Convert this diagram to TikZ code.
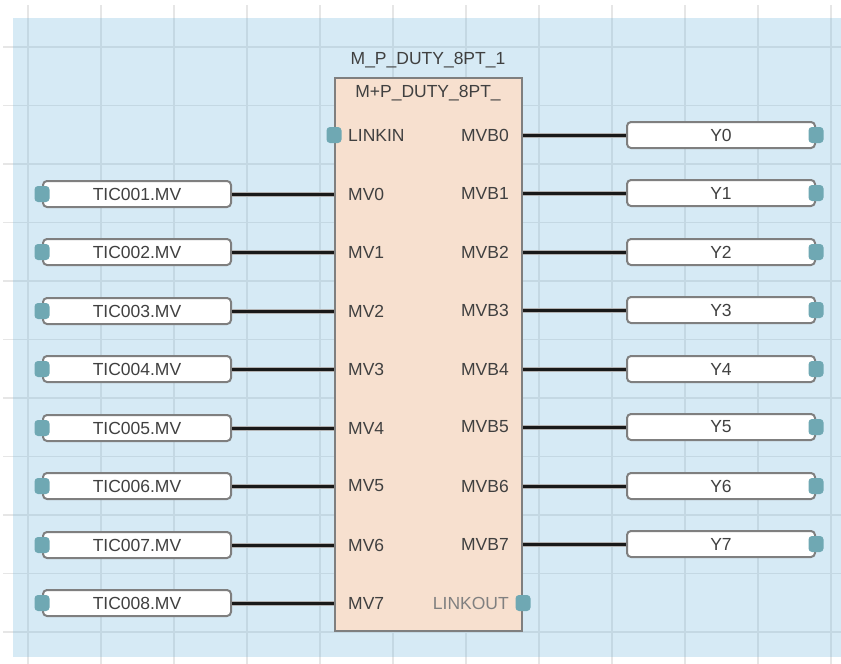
\documentclass[tikz,border=0pt]{standalone}
\usepackage{fontspec}
\setmainfont{Liberation Sans}
\definecolor{bgblue}{HTML}{D6EAF5}
\definecolor{gridb}{HTML}{C4D8E3}
\definecolor{gridw}{HTML}{E6E6E6}
\definecolor{peach}{HTML}{F7E0CF}
\definecolor{edge}{HTML}{7F7F7F}
\definecolor{portc}{HTML}{6FA8B3}
\definecolor{txt}{HTML}{404040}
\begin{document}
\begin{tikzpicture}[x=1pt,y=-1pt,
  every node/.style={font=\fontsize{17.5}{20}\selectfont, text=txt},
  var/.style={draw=edge, line width=2pt, fill=white, rounded corners=4pt,
    minimum width=188pt, minimum height=26pt, inner sep=0pt},
  fblock/.style={draw=edge, line width=2pt, fill=peach,
    minimum width=187pt, minimum height=553pt, inner sep=0pt},
  port/.style={fill=portc, rounded corners=3.5pt, minimum width=15pt,
    minimum height=16pt, inner sep=0pt},
  wire/.style={line width=3pt, draw=black!90,
    preaction={draw=gray!60, line width=5pt}},
  pinl/.style={anchor=west, inner sep=0pt},
  pinr/.style={anchor=east, inner sep=0pt}]
\useasboundingbox (0,0) rectangle (841,664);
\fill[white] (0,0) rectangle (841,664);
\fill[bgblue] (13,18) rectangle (841,657);
% grid
\foreach \i in {0,...,11} {
  \draw[gridw, line width=1.5pt] ({28+73*\i},5) -- ({28+73*\i},18);
  \draw[gridb, line width=1.5pt] ({28+73*\i},18) -- ({28+73*\i},657);
  \draw[gridw, line width=1.5pt] ({28+73*\i},657) -- ({28+73*\i},664);
}
\foreach \j in {0,...,10} {
  \draw[gridw, line width=1.5pt] (3,{47+58.5*\j}) -- (13,{47+58.5*\j});
  \draw[gridb, line width=1.5pt] (13,{47+58.5*\j}) -- (841,{47+58.5*\j});
}
% function block
\node[fblock] (fb) at (428.5,354.5) {};
\node (inst) at (428,60) {M\_P\_DUTY\_8PT\_1};
\node (type) at (428,93) {M+P\_DUTY\_8PT\_};
% LINKIN / LINKOUT
\node[pinl] (linkin) at (348,135) {LINKIN};
\node[port] (linkinp) at (fb.west |- linkin) {};
\node[pinr, text=gray] (linkout) at (509,603) {LINKOUT};
\node[port] (linkoutp) at (fb.east |- linkout) {};
% inputs
\foreach \k [evaluate=\k as \yy using {int(194+58.5*\k)}, evaluate=\k as \n using {int(\k+1)}] in {0,...,7} {
  \node[pinl] (mv\k) at (348,\yy) {MV\k};
  \node[var] (in\k) at (137,\yy) {TIC00\n.MV};
  \node[port] (inp\k) at (in\k.west) {};
  \draw[wire] (in\k.east) -- (in\k.east -| fb.west);
}
% outputs
\foreach \k [evaluate=\k as \yy using {int(135+58.5*\k)}] in {0,...,7} {
  \node[pinr] (mvb\k) at (509,\yy) {MVB\k};
  \node[var] (out\k) at (721,\yy) {Y\k};
  \node[port] (outp\k) at (out\k.east) {};
  \draw[wire] (fb.east |- out\k.west) -- (out\k.west);
}
\end{tikzpicture}
\end{document}
